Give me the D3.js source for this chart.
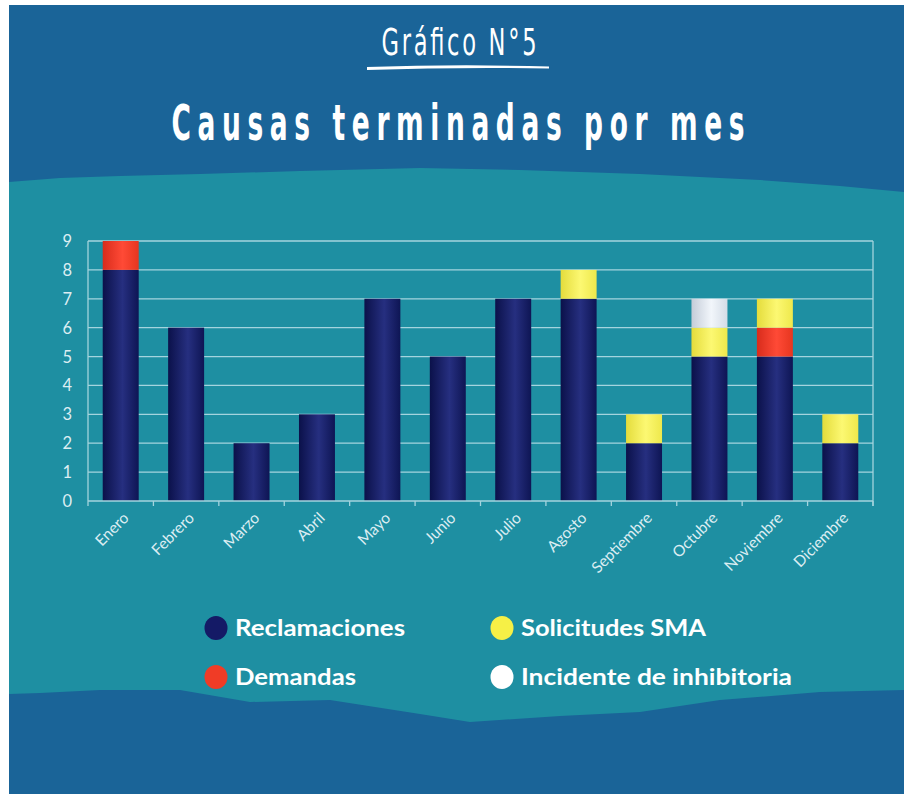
<!DOCTYPE html>
<html>
<head>
<meta charset="utf-8">
<script src="https://cdn.jsdelivr.net/npm/d3@7"></script>
<style>
  html, body { margin: 0; padding: 0; background: #fff; }
  svg { display: block; }
</style>
</head>
<body>
<script>
const months = ["Enero", "Febrero", "Marzo", "Abril", "Mayo", "Junio", "Julio",
  "Agosto", "Septiembre", "Octubre", "Noviembre", "Diciembre"];
const reclamaciones = [8, 6, 2, 3, 7, 5, 7, 7, 2, 5, 5, 2];
const demandas = [1, 0, 0, 0, 0, 0, 0, 0, 0, 0, 1, 0];
const solicitudes = [0, 0, 0, 0, 0, 0, 0, 1, 1, 1, 1, 1];
const incidente = [0, 0, 0, 0, 0, 0, 0, 0, 0, 1, 0, 0];
const seriesNames = ["Reclamaciones", "Demandas", "Solicitudes SMA", "Incidente de inhibitoria"];
const yTicks = [0, 1, 2, 3, 4, 5, 6, 7, 8, 9];

const w = 904, h = 794;
const svg = d3.select("body").append("svg").attr("width", w).attr("height", h);

// background
svg.append("rect").attr("x", 9).attr("y", 5).attr("width", w - 9).attr("height", h - 5)
  .attr("fill", "#1a6498");

const band = [
  [9, 182], [60, 178], [120, 176], [200, 174], [300, 171], [420, 168], [520, 170],
  [640, 174], [760, 180], [840, 186], [904, 192],
  [904, 690], [820, 692], [720, 700], [640, 712], [560, 716], [470, 722], [420, 714],
  [330, 700], [250, 702], [180, 690], [100, 690], [40, 693], [9, 694]
];
svg.append("path")
  .attr("d", d3.line().curve(d3.curveLinearClosed)(band))
  .attr("fill", "#1e8fa2");

// gradients for cylinder-like bars
const defs = svg.append("defs");
const colors = [
  ["#0b114a", "#262f80", "#0e1554"],
  ["#d82c1c", "#ff4a36", "#e6361f"],
  ["#e4dc3c", "#fcf872", "#eee84c"],
  ["#c4ccd8", "#f2f6fb", "#d4dce6"]
];
colors.forEach((c, i) => {
  const g = defs.append("linearGradient").attr("id", "g" + i)
    .attr("x1", "0%").attr("x2", "100%").attr("y1", "0%").attr("y2", "0%");
  g.append("stop").attr("offset", "0%").attr("stop-color", c[0]);
  g.append("stop").attr("offset", "55%").attr("stop-color", c[1]);
  g.append("stop").attr("offset", "100%").attr("stop-color", c[2]);
});

// titles (condensed look: narrow glyphs, spread with letter spacing)
function condensedTitle(txt, cx, baseline, size, width, squeeze, weight) {
  svg.append("g").attr("transform", `translate(${cx},${baseline}) scale(${squeeze},1)`)
    .append("text").attr("x", 0).attr("y", 0).attr("text-anchor", "middle")
    .attr("font-family", "DejaVu Sans Condensed, DejaVu Sans").attr("font-size", size)
    .attr("font-weight", weight)
    .attr("fill", "#fff")
    .attr("textLength", width / squeeze).attr("lengthAdjust", "spacing")
    .text(txt);
}
condensedTitle("Gráfico N°5", 459, 55, 38, 155, 0.66, 400);
svg.append("path").attr("d", "M367,67 Q458,64 549,66.5 L549,68.5 Q458,67 367,70 Z").attr("fill", "#fff");
condensedTitle("Causas terminadas por mes", 458, 140, 49, 573, 0.6, 700);

// chart
const plotL = 88, plotR = 873, plotT = 241, plotB = 501;
const x = d3.scaleBand().domain(months).range([plotL, plotR]).paddingInner(0.45).paddingOuter(0.225);
const y = d3.scaleLinear().domain([0, 9]).range([plotB, plotT]);

const lineColor = "#a4d4de";
svg.append("g").selectAll("line").data(yTicks.slice(1)).join("line")
  .attr("x1", plotL).attr("x2", plotR).attr("y1", d => y(d)).attr("y2", d => y(d))
  .attr("stroke", lineColor).attr("stroke-width", 1.3);
svg.append("line").attr("x1", plotL).attr("x2", plotL).attr("y1", y(9)).attr("y2", y(0))
  .attr("stroke", lineColor).attr("stroke-width", 1.3);
svg.append("line").attr("x1", plotR).attr("x2", plotR).attr("y1", y(9)).attr("y2", y(0) + 5)
  .attr("stroke", lineColor).attr("stroke-width", 1.3);

const table = months.map((m, i) => ({
  month: m,
  [seriesNames[0]]: reclamaciones[i],
  [seriesNames[1]]: demandas[i],
  [seriesNames[2]]: solicitudes[i],
  [seriesNames[3]]: incidente[i]
}));
const stack = d3.stack().keys(seriesNames)(table);

svg.append("g").selectAll("g").data(stack).join("g")
  .attr("fill", (d, i) => `url(#g${i})`)
  .selectAll("rect").data(d => d.filter(p => p[1] > p[0])).join("rect")
  .attr("x", d => x(d.data.month))
  .attr("width", x.bandwidth())
  .attr("y", d => y(d[1]))
  .attr("height", d => y(d[0]) - y(d[1]));

// x axis
const step = x.step();
const xAxis = svg.append("g");
xAxis.append("line").attr("x1", plotL).attr("x2", plotR).attr("y1", plotB).attr("y2", plotB)
  .attr("stroke", lineColor).attr("stroke-width", 1.3);
xAxis.selectAll(".tk").data(d3.range(months.length + 1)).join("line")
  .attr("class", "tk")
  .attr("x1", i => plotL + i * step).attr("x2", i => plotL + i * step)
  .attr("y1", plotB).attr("y2", plotB + 5)
  .attr("stroke", lineColor).attr("stroke-width", 1.3);
xAxis.selectAll("text").data(months).join("text")
  .attr("transform", d => `translate(${x(d) + x.bandwidth() / 2 + 9},${plotB + 18}) rotate(-45)`)
  .attr("text-anchor", "end")
  .attr("font-family", "Lato, DejaVu Sans").attr("font-weight", 400).attr("font-size", 15.5)
  .attr("fill", "#dcedf2")
  .text(d => d);

// y axis labels
svg.append("g").selectAll("text").data(yTicks).join("text")
  .attr("x", 72).attr("y", d => y(d) + 6).attr("text-anchor", "end")
  .attr("font-family", "Lato, DejaVu Sans").attr("font-size", 16.5)
  .attr("fill", "#dcedf2")
  .text(d => d);

// legend
const legendPos = [[216, 628], [216, 677], [502, 628], [502, 677]];
const legendWidth = [170, 121, 185, 271];
const legendFill = ["#141a66", "#f03c26", "#f6f046", "#ffffff"];
const lg = svg.append("g").selectAll("g").data(seriesNames).join("g")
  .attr("transform", (d, i) => `translate(${legendPos[i][0]},${legendPos[i][1]})`);
lg.append("ellipse").attr("rx", 11.5).attr("ry", 12).attr("fill", (d, i) => legendFill[i]);
lg.append("text").attr("x", 19).attr("y", 8)
  .attr("font-family", "Lato, DejaVu Sans").attr("font-weight", 700).attr("font-size", 22)
  .attr("fill", "#fff")
  .attr("textLength", (d, i) => legendWidth[i]).attr("lengthAdjust", "spacingAndGlyphs")
  .text(d => d);
</script>
</body>
</html>
